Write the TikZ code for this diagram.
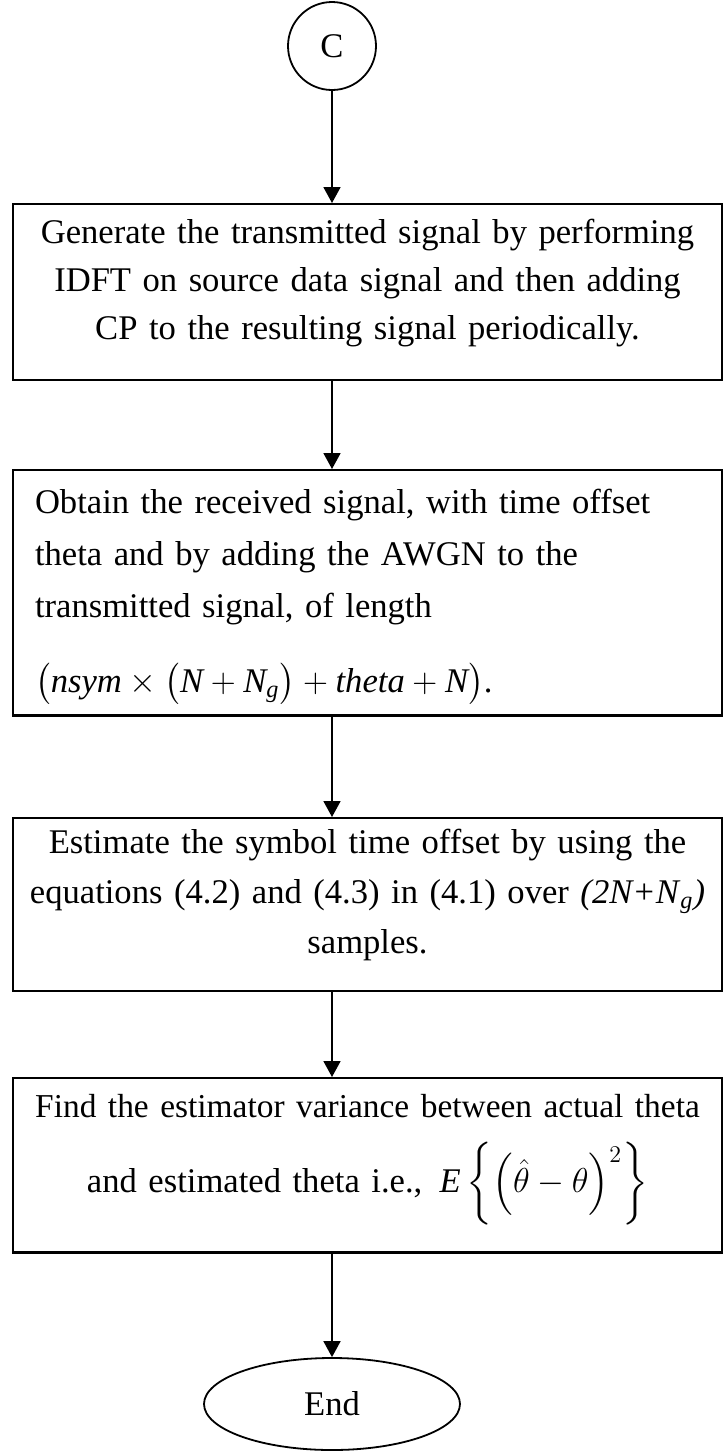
\documentclass[tikz,border=0pt]{standalone}
\usepackage{amsmath}
\usepackage{fontspec}
\setmainfont{Liberation Serif}
\usetikzlibrary{arrows.meta,shapes.geometric}
\newcommand\mytopgap[1]{\rule{0pt}{#1}}
\newcommand\mybotgap[1]{\rule[-#1]{0pt}{0pt}}
\newcommand\myparstrut{\vrule height 14pt depth 7pt width 0pt}
\begin{document}
\begin{tikzpicture}[x=0.5pt,y=-0.5pt,
  every node/.style={font=\fontsize{17.3}{25}\selectfont},
  box/.style={draw,line width=1.2pt,anchor=north,minimum width=354.5pt,text width=350pt,inner xsep=2.25pt,inner ysep=0pt},
  arr/.style={line width=0.9pt,-{Triangle[length=8pt,width=8.5pt]}}]
\useasboundingbox (0,0) rectangle (725,1453);
\node[draw,circle,minimum size=44pt,line width=0.9pt,inner sep=0pt] (c) at (332,46) {C};
\node[box,align=center,font=\fontsize{17.3}{24}\selectfont] (b1) at (367.5,203)
  {\mytopgap{19.5pt}Generate the transmitted signal by performing\\IDFT on source data signal and then adding\\CP to the resulting signal periodically.\mybotgap{20.5pt}};
\node[box,align=left,text width=332.5pt,inner xsep=11pt,font=\fontsize{17.3}{26}\selectfont] (b2) at (367.5,469)
  {\mytopgap{21.5pt}Obtain the received signal, with time offset\\theta and by adding the AWGN to the\\transmitted signal, of length\\\mytopgap{33pt}$\left(\myparstrut\textit{nsym}\times\left(\myparstrut\textit{N}+\textit{N}_{\textit{g}}\right)+\textit{theta}+\textit{N}\right)$.\mybotgap{11.5pt}};
\node[box,align=center] (b3) at (367.5,817)
  {\mytopgap{17.5pt}Estimate the symbol time offset by using the\\equations (4.2) and (4.3) in (4.1) over \textit{(2N+N}\textsubscript{\textit{g}}\textit{)}\\samples.\mybotgap{19pt}};
\node[box,align=center] (b4) at (367.5,1077)
  {\mytopgap{19.5pt}\mbox{\fontsize{16.7}{25}\selectfont Find the estimator variance between actual theta}\\\mytopgap{36.5pt}and estimated theta i.e., \,$\textit{E}\left\{\Bigl(\hat{\theta}-\theta\Bigr)^2\right\}$\mybotgap{30pt}};
\node[draw,ellipse,minimum width=128pt,minimum height=46pt,line width=0.9pt,inner sep=0pt] (e) at (332,1404) {End};
\draw[arr] (c.south) -- (c.south |- b1.north);
\draw[arr] (b1.south -| c) -- (b2.north -| c);
\draw[arr] (b2.south -| c) -- (b3.north -| c);
\draw[arr] (b3.south -| c) -- (b4.north -| c);
\draw[arr] (b4.south -| e.north) -- (e.north);
\end{tikzpicture}
\end{document}
